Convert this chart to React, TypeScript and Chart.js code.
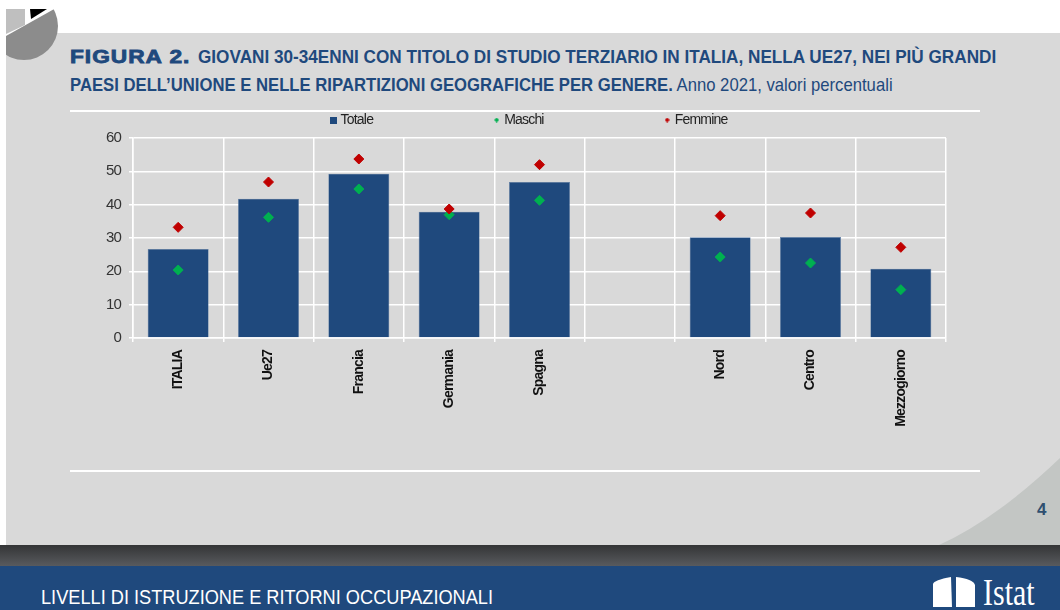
import React, { useEffect, useRef } from "react";
import { Chart, registerables } from "chart.js";

Chart.register(...registerables);

const categories = ["ITALIA", "Ue27", "Francia", "Germania", "Spagna", "", "Nord", "Centro", "Mezzogiorno"];
const totale = [26.7, 41.8, 49.3, 37.9, 46.8, null, 30.2, 30.3, 20.8];
const maschi = [20.4, 36.2, 44.7, 37.0, 41.3, null, 24.3, 22.5, 14.5];
const femmine = [33.2, 46.8, 53.7, 38.7, 52.0, null, 36.7, 37.5, 27.2];
const yTicks = [0, 10, 20, 30, 40, 50, 60];

const SANS = '"Liberation Sans", Arial, sans-serif';
const BLUE = "#1F497D";
const GREEN = "#00B050";
const RED = "#C00000";

function abs(style: React.CSSProperties): React.CSSProperties {
  return { position: "absolute", whiteSpace: "nowrap", transformOrigin: "left center", ...style };
}

function marker(size: number, color: string, diamond: boolean): HTMLCanvasElement {
  const c = document.createElement("canvas");
  c.width = size;
  c.height = size;
  const g = c.getContext("2d")!;
  g.fillStyle = color;
  if (diamond) {
    g.beginPath();
    g.moveTo(size / 2, 0);
    g.lineTo(size, size / 2);
    g.lineTo(size / 2, size);
    g.lineTo(0, size / 2);
    g.closePath();
    g.fill();
  } else {
    g.fillRect(0, 0, size, size);
  }
  return c;
}

const layoutPlugin = {
  id: "legendPlace",
  beforeUpdate(chart: any) {
    (chart.ctx as any).letterSpacing = "-0.8px";
  },
  beforeLayout(chart: any) {
    const l = chart.legend;
    if (l && !l.__wrapped) {
      const fit = l.fit;
      l.fit = function () {
        fit.call(this);
        this.height = 0;
      };
      l.__wrapped = true;
    }
  },
  afterLayout(chart: any) {
    const l = chart.legend;
    if (l) {
      l.left = 0;
      l.right = 1060;
      l.top = -10;
    }
  },
};

export default function App() {
  const ref = useRef<HTMLCanvasElement>(null);

  useEffect(() => {
    const legendMarks = [marker(7, BLUE, false), marker(5, GREEN, true), marker(5, RED, true)];
    const chart = new Chart(ref.current!, {
      type: "bar",
      plugins: [layoutPlugin],
      data: {
        labels: categories,
        datasets: [
          { type: "bar", label: "Totale", data: totale, backgroundColor: BLUE, borderColor: "#5f7fa6", borderWidth: 0.6, barPercentage: 0.675, categoryPercentage: 1, order: 3 },
          { type: "line", label: "Maschi", data: maschi, showLine: false, pointStyle: "rectRot", pointRadius: 5, backgroundColor: GREEN, borderColor: GREEN, order: 2 },
          { type: "line", label: "Femmine", data: femmine, showLine: false, pointStyle: "rectRot", pointRadius: 5, backgroundColor: RED, borderColor: RED, order: 1 },
        ],
      } as any,
      options: {
        animation: false,
        responsive: false,
        layout: { padding: { top: 138, left: 0, right: 114, bottom: 0 } },
        plugins: {
          tooltip: { enabled: false },
          legend: {
            position: "top",
            labels: {
              usePointStyle: true,
              boxHeight: 5,
              pointStyleWidth: 1,
              padding: 123,
              color: "#222",
              font: { family: SANS, size: 14 },
              sort: (a: any, b: any) => a.datasetIndex - b.datasetIndex,
              generateLabels: (c: any) =>
                Chart.defaults.plugins.legend.labels.generateLabels(c).map((it: any) => ({
                  ...it,
                  pointStyle: legendMarks[it.datasetIndex],
                })),
            },
          },
        },
        scales: {
          x: {
            grid: { color: "#ffffff", lineWidth: 1.5, offset: true, tickLength: 4, drawTicks: true },
            border: { color: "#ffffff", width: 1.5 },
            ticks: {
              autoSkip: false,
              minRotation: 90,
              maxRotation: 90,
              padding: 8,
              color: "#111",
              font: { family: SANS, size: 14, weight: "bold" },
            },
            afterFit: (s: any) => { s.height = 272; },
          },
          y: {
            min: 0,
            max: 60,
            grid: { color: "#ffffff", lineWidth: 1.5, tickLength: 4 },
            border: { color: "#ffffff", width: 1.5 },
            afterBuildTicks: (s: any) => { s.ticks = yTicks.map((value) => ({ value })); },
            ticks: {
              padding: 8,
              color: "#333",
              font: { family: SANS, size: 15 },
            },
            afterFit: (s: any) => { s.width = 133; },
          },
        },
      },
    } as any);
    return () => chart.destroy();
  }, []);

  return (
    <div style={{ position: "absolute", left: 0, top: 0, width: 1060, height: 610, overflow: "hidden", background: "#fff", fontFamily: SANS }}>
      <div style={abs({ left: 6, top: 33, width: 1054, height: 512, background: "#D9D9D9" })} />
      <svg width={1060} height={610} style={{ position: "absolute", left: 0, top: 0 }}>
        <defs>
          <linearGradient id="band" x1="0" y1="0" x2="0" y2="1">
            <stop offset="0" stopColor="#343536" />
            <stop offset="1" stopColor="#5A5C60" />
          </linearGradient>
          <clipPath id="pieclip"><rect x={6} y={9} width={80} height={80} /></clipPath>
        </defs>
        <path d="M939 545 Q995 520 1060 458 L1060 545 Z" fill="#C3C6C4" />
        <g clipPath="url(#pieclip)">
          <circle cx={24} cy={26} r={34} fill="#8C8C8C" />
          <polygon points="0,0 70,0 56,8 6,36 0,39" fill="#fff" />
          <polygon points="6,9 25,9 25,25 6,34" fill="#BFBFBF" />
          <polygon points="30,9 47,9 31,19" fill="#000" />
        </g>
        <rect x={0} y={545} width={1060} height={22} fill="url(#band)" />
        <rect x={0} y={566} width={1060} height={44} fill={BLUE} />
        <path d="M933 607 L933 584 Q934 580 951 577 L952 607 Z" fill="#fff" />
        <path d="M956 607 L956 577 Q973 579 975 585 L975 607 Z" fill="#fff" />
      </svg>
      <div style={abs({ left: 70, top: 110, width: 910, height: 2, background: "#fff" })} />
      <div style={abs({ left: 70, top: 470, width: 910, height: 2, background: "#fff" })} />

      <div style={abs({ left: 70, top: 46, color: BLUE, fontSize: 18, lineHeight: "22px", fontWeight: "bold", letterSpacing: 0.8, WebkitTextStroke: "0.8px " + BLUE, transform: "scaleX(1.26)" })}>FIGURA 2.</div>
      <div style={abs({ left: 198, top: 46, color: BLUE, fontSize: 19, lineHeight: "22px", fontWeight: "bold", transform: "scaleX(0.903)" })}>
        GIOVANI 30-34ENNI CON TITOLO DI STUDIO TERZIARIO IN ITALIA, NELLA UE27, NEI PIÙ GRANDI
      </div>
      <div style={abs({ left: 70, top: 74, color: BLUE, fontSize: 19, lineHeight: "22px", transform: "scaleX(0.878)" })}>
        <span style={{ fontWeight: "bold" }}>PAESI DELL’UNIONE E NELLE RIPARTIZIONI GEOGRAFICHE PER GENERE.</span> Anno 2021, valori percentuali
      </div>

      <div style={abs({ left: 1037, top: 500, color: "#2f4f70", fontSize: 17, fontWeight: "bold" })}>4</div>
      <div style={abs({ left: 41, top: 585, color: "#fff", fontSize: 21, lineHeight: "24px", transform: "scaleX(0.866)" })}>LIVELLI DI ISTRUZIONE E RITORNI OCCUPAZIONALI</div>
      <div style={abs({ left: 983, top: 572, color: "#fff", fontSize: 37, lineHeight: "42px", fontFamily: '"Liberation Serif", serif', transform: "scaleX(0.81)" })}>Istat</div>

      <canvas ref={ref} width={1060} height={610} style={{ position: "absolute", left: 0, top: 0 }} />
    </div>
  );
}
